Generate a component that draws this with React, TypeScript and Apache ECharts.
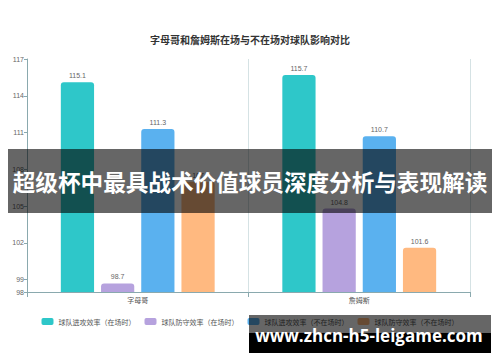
import React, { useEffect, useRef } from "react";
import * as echarts from "echarts";

const categories = ["字母哥", "詹姆斯"];
const seriesNames = [
  "球队进攻效率（在场时）",
  "球队防守效率（在场时）",
  "球队进攻效率（不在场时）",
  "球队防守效率（不在场时）",
];
const offOn = [115.1, 115.7];
const defOn = [98.7, 104.8];
const offOff = [111.3, 110.7];
const defOff = [107.0, 101.6];
const yTicks = [98, 99, 102, 105, 108, 111, 114, 117];
const colors = ["#2ec7c9", "#b6a2de", "#5ab1ef", "#ffb980"];

export default function App() {
  const ref = useRef<HTMLDivElement>(null);
  useEffect(() => {
    if (!ref.current) return;
    const chart = echarts.init(ref.current, undefined, { renderer: "svg" });
    const values = [offOn, defOn, offOff, defOff];
    chart.setOption({
      animation: false,
      color: colors,
      title: {
        text: "字母哥和詹姆斯在场与不在场对球队影响对比",
        left: "center",
        top: 29,
        textStyle: { fontSize: 10, fontWeight: "bold", color: "#333", fontFamily: "Noto Sans CJK SC" },
      },
      legend: {
        bottom: 32,
        left: "center",
        itemWidth: 12,
        itemHeight: 7,
        itemGap: 9,
        textStyle: { fontSize: 7, color: "#555", fontFamily: "Noto Sans CJK SC" },
        data: seriesNames,
      },
      grid: { left: 27, right: 30, top: 59, bottom: 70, containLabel: false },
      xAxis: {
        type: "category",
        data: categories,
        axisLine: { lineStyle: { color: "#8aa9ae" } },
        axisTick: { show: true, lineStyle: { color: "#8aa9ae" } },
        axisLabel: { fontSize: 7, color: "#555", margin: 4, fontFamily: "Noto Sans CJK SC" },
        splitLine: { show: true, lineStyle: { color: "#d5e2e4" } },
      },
      yAxis: {
        type: "value",
        min: 98,
        max: 117,
        axisLine: { show: true, lineStyle: { color: "#8aa9ae" } },
        axisTick: { show: true, length: 3, customValues: yTicks, lineStyle: { color: "#8aa9ae" } },
        axisLabel: { fontSize: 7, color: "#666", margin: 3, customValues: yTicks },
        splitLine: { show: false },
      },
      series: seriesNames.map((name, i) => ({
        name,
        type: "bar",
        data: values[i],
        barWidth: "15%",
        barGap: "21%",
        itemStyle: { color: colors[i], borderRadius: [3, 3, 0, 0] },
        label: { show: true, position: "top", fontSize: 7, color: "#666", distance: 3 },
      })),
      graphic: [
        {
          type: "rect",
          shape: { x: 8, y: 149, width: 484, height: 64 },
          style: { fill: "rgba(0,0,0,0.6)" },
          z: 100,
        },
        {
          type: "text",
          x: 250,
          y: 181,
          style: {
            text: "超级杯中最具战术价值球员深度分析与表现解读",
            fill: "#fff",
            fontSize: 22.6,
            fontWeight: "bold",
            fontFamily: "Noto Sans CJK SC",
            align: "center",
            verticalAlign: "middle",
          },
          z: 101,
        },
        {
          type: "rect",
          shape: { x: 249, y: 315, width: 242, height: 18 },
          style: { fill: "rgba(0,0,0,0.6)" },
          z: 100,
        },
        {
          type: "rect",
          shape: { x: 249, y: 333, width: 242, height: 20 },
          style: { fill: "#000" },
          z: 100,
        },
        {
          type: "text",
          x: 369,
          y: 335,
          style: {
            text: "www.zhcn-h5-leigame.com",
            fill: "#fff",
            fontSize: 17,
            fontWeight: "bold",
            fontFamily: "Open Sans",
            align: "center",
            verticalAlign: "middle",
          },
          z: 101,
        },
      ],
    });
    return () => chart.dispose();
  }, []);
  return <div ref={ref} style={{ width: 500, height: 362, position: "absolute", left: 0, top: 0 }} />;
}
